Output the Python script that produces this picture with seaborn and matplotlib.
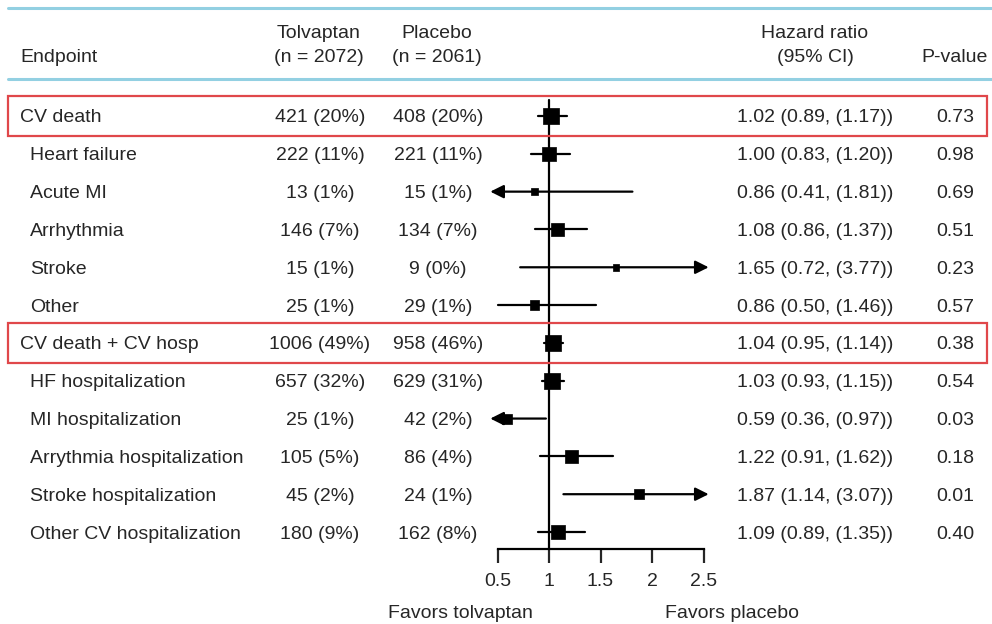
import numpy as np
import pandas as pd
import matplotlib
matplotlib.use('Agg')
import matplotlib.pyplot as plt
import matplotlib.colors as mcolors
from matplotlib.patches import Rectangle
import seaborn as sns

sns.set_style('white')
plt.rcParams['font.family'] = ['Liberation Sans', 'DejaVu Sans']

# data
endpoints = ['CV death', 'Heart failure', 'Acute MI', 'Arrhythmia', 'Stroke', 'Other',
             'CV death + CV hosp', 'HF hospitalization', 'MI hospitalization',
             'Arrythmia hospitalization', 'Stroke hospitalization', 'Other CV hospitalization']
is_group = [True, False, False, False, False, False, True, False, False, False, False, False]
tolv_n = [421, 222, 13, 146, 15, 25, 1006, 657, 25, 105, 45, 180]
tolv_pct = [20, 11, 1, 7, 1, 1, 49, 32, 1, 5, 2, 9]
plac_n = [408, 221, 15, 134, 9, 29, 958, 629, 42, 86, 24, 162]
plac_pct = [20, 11, 1, 7, 0, 1, 46, 31, 2, 4, 1, 8]
hr = [1.02, 1.00, 0.86, 1.08, 1.65, 0.86, 1.04, 1.03, 0.59, 1.22, 1.87, 1.09]
ci_low = [0.89, 0.83, 0.41, 0.86, 0.72, 0.50, 0.95, 0.93, 0.36, 0.91, 1.14, 0.89]
ci_high = [1.17, 1.20, 1.81, 1.37, 3.77, 1.46, 1.14, 1.15, 0.97, 1.62, 3.07, 1.35]
p_values = ['0.73', '0.98', '0.69', '0.51', '0.23', '0.57', '0.38', '0.54', '0.03', '0.18', '0.01', '0.40']
x_ticks = [0.5, 1, 1.5, 2, 2.5]

df = pd.DataFrame({'endpoint': endpoints, 'hr': hr, 'lo': ci_low, 'hi': ci_high,
                   'events': np.array(tolv_n) + np.array(plac_n)})
df['row'] = np.arange(len(df))

txt = '#262626'
blue = '#93d0e2'
red = '#e0474a'
fs = 14

fig = plt.figure(figsize=(9.92, 6.24), dpi=100)
ax = fig.add_axes([0, 0, 1, 1])
# 103 px per HR unit, HR=1 at x=549 px; row 0 at 116 px, rows 37.8 px apart
ax.set_xlim(1 - 549 / 103, 1 + 443 / 103)
row_h = 37.82
ax.set_ylim((624 - 116) / row_h, -116 / row_h)


def py(px):
    return (px - 116) / row_h


def hx(px):
    return 1 + (px - 549) / 103


tr = ax.get_yaxis_transform()  # x in axes fraction, y in data

# clipped CI lines, arrows where the CI runs off the scale
lo_clip, hi_clip = 0.43, 2.55
arrow = dict(arrowstyle='-|>', lw=1.6, color='black', mutation_scale=20, shrinkA=0, shrinkB=0)
for _, r in df.iterrows():
    a = max(r['lo'], lo_clip)
    b = min(r['hi'], hi_clip)
    if r['lo'] < lo_clip:
        ax.annotate('', xy=(a, r['row']), xytext=(b, r['row']), arrowprops=arrow, zorder=2)
    elif r['hi'] > hi_clip:
        ax.annotate('', xy=(b, r['row']), xytext=(a, r['row']), arrowprops=arrow, zorder=2)
    else:
        ax.plot([a, b], [r['row'], r['row']], color='black', lw=1.6, zorder=2)

sns.scatterplot(data=df, x='hr', y='row', size='events', sizes=(24, 145),
                size_norm=mcolors.LogNorm(df['events'].min(), df['events'].max()),
                marker='s', color='black', edgecolor='black', linewidth=0.5,
                legend=False, ax=ax, zorder=3)

# reference line at HR = 1
ax.plot([1, 1], [py(100), py(549)], color='black', lw=1.6, zorder=2)

# bottom axis
ax.spines[['top', 'right', 'left']].set_visible(False)
ax.spines['bottom'].set_position(('data', py(549)))
ax.spines['bottom'].set_bounds(x_ticks[0], x_ticks[-1])
ax.spines['bottom'].set_linewidth(1.6)
ax.spines['bottom'].set_color('black')
ax.set_xticks(x_ticks)
ax.set_xticklabels(['0.5', '1', '1.5', '2', '2.5'])
ax.tick_params(axis='x', direction='out', length=10, width=1.6, pad=7,
               labelsize=fs, labelcolor=txt, bottom=True)
ax.set_yticks([])
ax.set_xlabel('')
ax.set_ylabel('')

ax.text(hx(460), py(612), 'Favors tolvaptan', fontsize=fs, color=txt,
        ha='center', va='center_baseline')
ax.text(hx(732), py(612), 'Favors placebo', fontsize=fs, color=txt,
        ha='center', va='center_baseline')

# header
for yy in [py(8), py(79)]:
    ax.plot([8 / 992, 1], [yy, yy], transform=tr, color=blue, lw=2.2, clip_on=False)
hdr = dict(transform=tr, fontsize=fs, color=txt, ha='center', va='center_baseline')
ax.text(20 / 992, py(55), 'Endpoint', transform=tr, fontsize=fs, color=txt, va='center_baseline')
ax.text(319 / 992, py(32), 'Tolvaptan', **hdr)
ax.text(319 / 992, py(55), '(n = 2072)', **hdr)
ax.text(437 / 992, py(32), 'Placebo', **hdr)
ax.text(437 / 992, py(55), '(n = 2061)', **hdr)
ax.text(815 / 992, py(32), 'Hazard ratio', **hdr)
ax.text(815 / 992, py(55), '(95% CI)', **hdr)
ax.text(955 / 992, py(55), 'P-value', **hdr)

# table columns
cell = dict(transform=tr, fontsize=fs, color=txt, ha='center', va='center_baseline')
for i in range(len(endpoints)):
    x0 = 20 / 992 if is_group[i] else 30 / 992
    ax.text(x0, i, endpoints[i], transform=tr, fontsize=fs, color=txt, va='center_baseline')
    ax.text(320 / 992, i, f'{tolv_n[i]} ({tolv_pct[i]}%)', **cell)
    ax.text(438 / 992, i, f'{plac_n[i]} ({plac_pct[i]}%)', **cell)
    ax.text(815 / 992, i, f'{hr[i]:.2f} ({ci_low[i]:.2f}, ({ci_high[i]:.2f}))', **cell)
    ax.text(955 / 992, i, p_values[i], **cell)
    if is_group[i]:
        ax.add_patch(Rectangle((8 / 992, i - 0.53), 979 / 992, 1.06, transform=tr,
                               fill=False, edgecolor=red, lw=1.6, clip_on=False, zorder=4))

fig.savefig('out.png', dpi=100)
